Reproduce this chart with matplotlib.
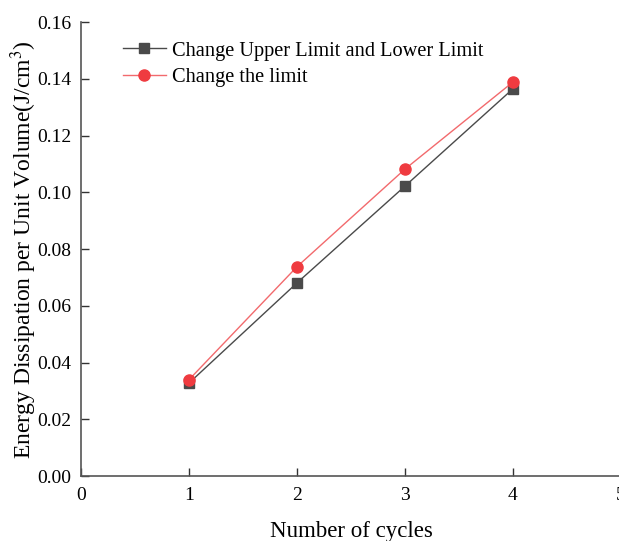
import matplotlib
matplotlib.use("Agg")
import matplotlib.pyplot as plt

cycles = [1, 2, 3, 4]
upper_lower = [0.0328, 0.0681, 0.1022, 0.1365]
limit_only = [0.0340, 0.0738, 0.1082, 0.1389]

plt.rcParams.update({"font.family": ["Liberation Serif", "DejaVu Serif"],
                     "mathtext.fontset": "stix"})

fig = plt.figure(figsize=(6.19, 5.41), dpi=100)
ax = fig.add_axes([0.131, 0.120, 0.872, 0.839])

ax.plot(cycles, upper_lower, color="#4a4a4a", lw=1.0, marker="s", ms=7.5,
        mec="#4a4a4a", mfc="#4a4a4a", label="Change Upper Limit and Lower Limit")
ax.plot(cycles, limit_only, color="#f26a6d", lw=1.0, marker="o", ms=8,
        mec="#ef3b40", mfc="#ef3b40", label="Change the limit")

ax.set_xlim(0, 5)
ax.set_ylim(0, 0.16)
ax.set_xticks([0, 1, 2, 3, 4, 5])
ax.set_yticks([0.00, 0.02, 0.04, 0.06, 0.08, 0.10, 0.12, 0.14, 0.16])
ax.yaxis.set_major_formatter(matplotlib.ticker.FormatStrFormatter("%.2f"))
ax.tick_params(direction="in", length=6, width=1, labelsize=14, colors="#333333",
               labelcolor="black")
ax.tick_params(axis="x", pad=8)
ax.tick_params(axis="y", pad=7)
for s in ("top", "right"):
    ax.spines[s].set_visible(False)
for s in ("left", "bottom"):
    ax.spines[s].set_color("#555555")
    ax.spines[s].set_linewidth(1.2)

ax.set_xlabel("Number of cycles", fontsize=16.5, labelpad=12)
ax.set_ylabel("Energy Dissipation per Unit Volume(J/cm$^3$)", fontsize=17, labelpad=-1)

ax.legend(loc="upper left", bbox_to_anchor=(0.055, 0.985), frameon=False, fontsize=14.7,
          handlelength=2.1, borderaxespad=0.2, labelspacing=0.35, handletextpad=0.3)

fig.savefig("out.png", dpi=100)
